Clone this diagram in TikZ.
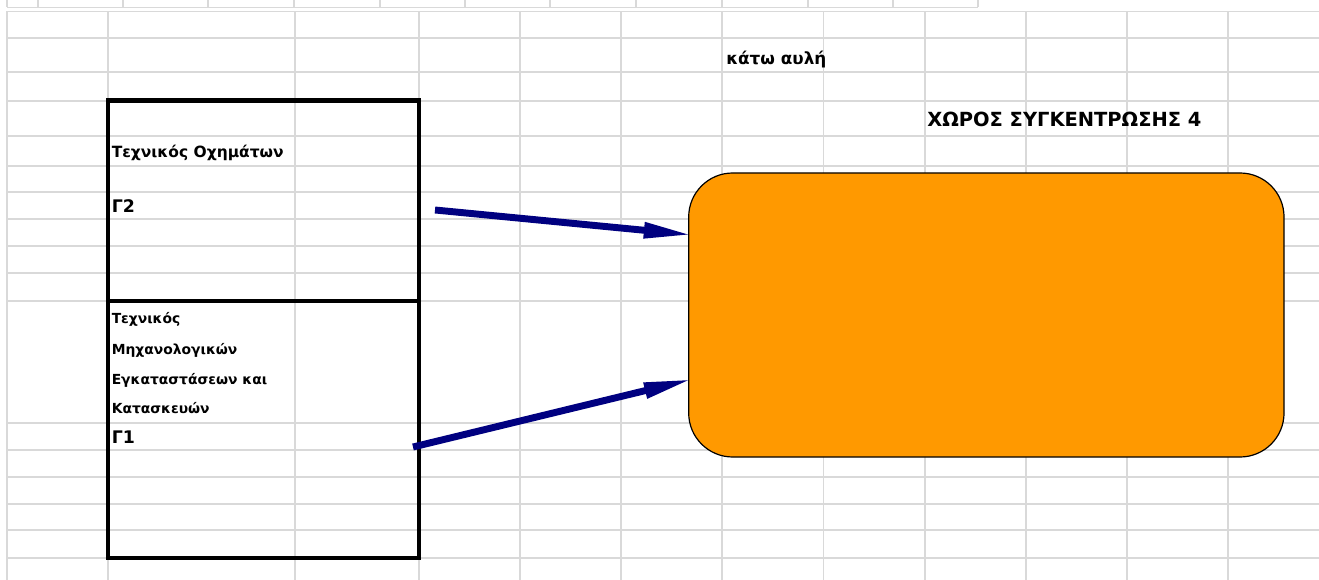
\documentclass[tikz,border=0pt]{standalone}
\usepackage{fontspec}
\setmainfont{DejaVu Sans}
\usetikzlibrary{arrows.meta,calc}
\definecolor{gridgray}{HTML}{D9D9D9}
\definecolor{navyarrow}{HTML}{000080}
\definecolor{boxorange}{HTML}{FF9900}
\begin{document}
\begin{tikzpicture}[x=0.75pt,y=-0.75pt,
  gridline/.style={draw=gridgray,line width=1.1pt},
  cellbox/.style={draw=black,line width=3.4pt,inner sep=0pt,minimum width=233.25pt},
  zone/.style={draw=black,line width=0.9pt,fill=boxorange,rounded corners=33pt,inner sep=0pt,minimum width=446.5pt,minimum height=213pt},
  flow/.style={draw=navyarrow,line width=5.2pt,-{Triangle[length=37pt,width=11pt]}},
  lblsmall/.style={anchor=base west,inner sep=0pt,font=\bfseries\fontsize{10.4pt}{12pt}\selectfont},
  lblmid/.style={anchor=base west,inner sep=0pt,font=\bfseries\fontsize{11.6pt}{13pt}\selectfont},
  lblgamma/.style={anchor=base west,inner sep=0pt,font=\bfseries\fontsize{13pt}{15pt}\selectfont},
  lblbig/.style={anchor=base west,inner sep=0pt,font=\bfseries\fontsize{14.6pt}{17pt}\selectfont},
  lblyard/.style={anchor=base west,inner sep=0pt,font=\bfseries\fontsize{12.6pt}{15pt}\selectfont}
]
\useasboundingbox (0,0) rectangle (1319,580);
\fill[white] (0,0) rectangle (1319,580);

% spreadsheet grid
\foreach \y in {11.5,38,72,101,136,166,192,219,246,273,301,423,450,477,504,530,558}
  \draw[gridline] (7,\y) -- (1319,\y);
\foreach \x in {7,108,295,419,520,621,722,823.5,925,1026,1127,1228}
  \draw[gridline] (\x,11.5) -- (\x,580);
% header strip
\draw[gridline] (7,7.3) -- (978,7.3);
\foreach \x in {7,38,123,208,294,380,465,550,636,722,808,893,978}
  \draw[gridline] (\x,0) -- (\x,7.3);

% left boxes
\node[cellbox,minimum height=150.2pt] (upcell) at (263.5,200.85) {};
\node[cellbox,minimum height=192.75pt] (lowcell) at (263.5,429.5) {};

% orange zone
\node[zone] (zone) at (986.35,315) {};

% texts
\node[lblyard] (yard) at (726,65) {κάτω αυλή};
\node[lblbig] (title) at (927,126.7) {ΧΩΡΟΣ ΣΥΓΚΕΝΤΡΩΣΗΣ 4};
\node[lblmid] (veh) at (111.5,157.7) {Τεχνικός Οχημάτων};
\node[lblgamma] (g2) at (111.5,212.3) {Γ2};
\node[lblsmall] (m1) at (111.5,324) {Τεχνικός};
\node[lblsmall] (m2) at (111.5,354) {Μηχανολογικών};
\node[lblsmall] (m3) at (111.5,384) {Εγκαταστάσεων και};
\node[lblsmall] (m4) at (111.5,413) {Κατασκευών};
\node[lblgamma] (g1) at (111.5,443.3) {Γ1};

% arrows
\coordinate (s1) at (435,210);
\coordinate (s2) at (413,447);
\draw[flow] (s1) -- ($(zone.west)+(5,-80)$);
\draw[flow] (s2) -- ($(zone.west)+(5,64)$);
\end{tikzpicture}
\end{document}
